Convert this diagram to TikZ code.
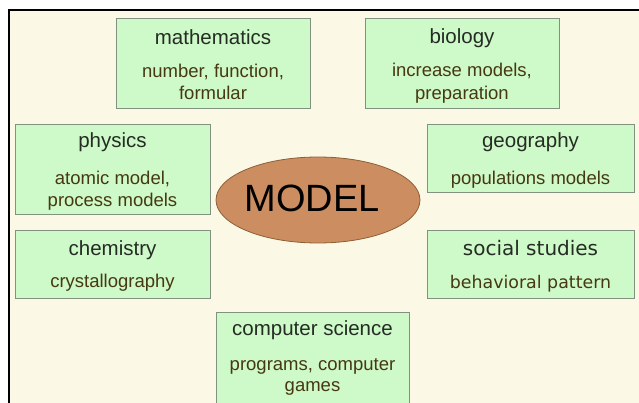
\documentclass[tikz,border=0pt]{standalone}
\usepackage{fontspec}
\setmainfont{Liberation Sans}
\newfontfamily\vfont{DejaVu Sans}
\usetikzlibrary{shapes.geometric}

\definecolor{paper}{RGB}{251,249,230}
\definecolor{fieldfill}{RGB}{206,249,200}
\definecolor{fieldline}{RGB}{130,146,128}
\definecolor{headtext}{RGB}{36,44,36}
\definecolor{subtext}{RGB}{70,56,18}
\definecolor{modelfill}{RGB}{204,142,96}
\definecolor{modelline}{RGB}{140,95,55}

\tikzset{
  field/.style={draw=fieldline, fill=fieldfill, line width=1pt, inner sep=0pt},
  head/.style={anchor=base, text=headtext, inner sep=0pt, font=\fontsize{20.5}{24}\selectfont},
  sub/.style={anchor=base, text=subtext, inner sep=0pt, font=\fontsize{18.5}{22}\selectfont},
}

\begin{document}
\begin{tikzpicture}[x=1pt,y=1pt,yscale=-1,xscale=1]
\useasboundingbox (0,0) rectangle (639,403);

%Page and frame
\fill[white] (0,0) rectangle (639,403);
\fill[paper] (9,10) rectangle (639,403);
\draw[line width=2.5pt] (9,403) -- (9,10) -- (639,10);

%Mathematics
\node[field, minimum width=194pt, minimum height=90pt] (math) at (213,64) {};
\node[head] (mathT) at (213,45) {mathematics};
\node[sub] (mathA) at (213,78) {number, function,};
\node[sub] (mathB) at (213,100) {formular};

%Biology
\node[field, minimum width=194pt, minimum height=90pt] (bio) at (462,64) {};
\node[head] (bioT) at (462,44) {biology};
\node[sub] (bioA) at (462,77) {increase models,};
\node[sub] (bioB) at (462,100) {preparation};

%Physics
\node[field, minimum width=195pt, minimum height=90pt] (phys) at (112.5,170) {};
\node[head] (physT) at (112.5,148) {physics};
\node[sub] (physA) at (112.5,185) {atomic model,};
\node[sub] (physB) at (112.5,207) {process models};

%Geography
\node[field, minimum width=207pt, minimum height=68pt] (geo) at (530.5,159) {};
\node[head] (geoT) at (530.5,148) {geography};
\node[sub] (geoA) at (530.5,185) {populations models};

%Chemistry
\node[field, minimum width=195pt, minimum height=67pt] (chem) at (112.5,264.5) {};
\node[head] (chemT) at (112.5,255) {chemistry};
\node[sub] (chemA) at (112.5,287) {crystallography};

%Social studies
\node[field, minimum width=207pt, minimum height=67pt] (soc) at (530.5,264.5) {};
\node[head, font=\vfont\fontsize{20}{24}\selectfont] (socT) at (530.5,255) {social studies};
\node[sub, font=\vfont\fontsize{17.4}{22}\selectfont] (socA) at (530.5,288) {behavioral pattern};

%Computer science
\node[field, minimum width=193pt, minimum height=98pt] (comp) at (312.5,361) {};
\node[head] (compT) at (312.5,335) {computer science};
\node[sub] (compA) at (312.5,370) {programs, computer};
\node[sub] (compB) at (312.5,391) {games};

%Model
\node[ellipse, draw=modelline, fill=modelfill, line width=0.8pt, minimum width=204pt, minimum height=86pt, inner sep=0pt] (model) at (318,200) {};
\node[anchor=base, inner sep=0pt, font=\fontsize{38}{44}\selectfont] (modelT) at (312,212) {MODEL};

\end{tikzpicture}
\end{document}
